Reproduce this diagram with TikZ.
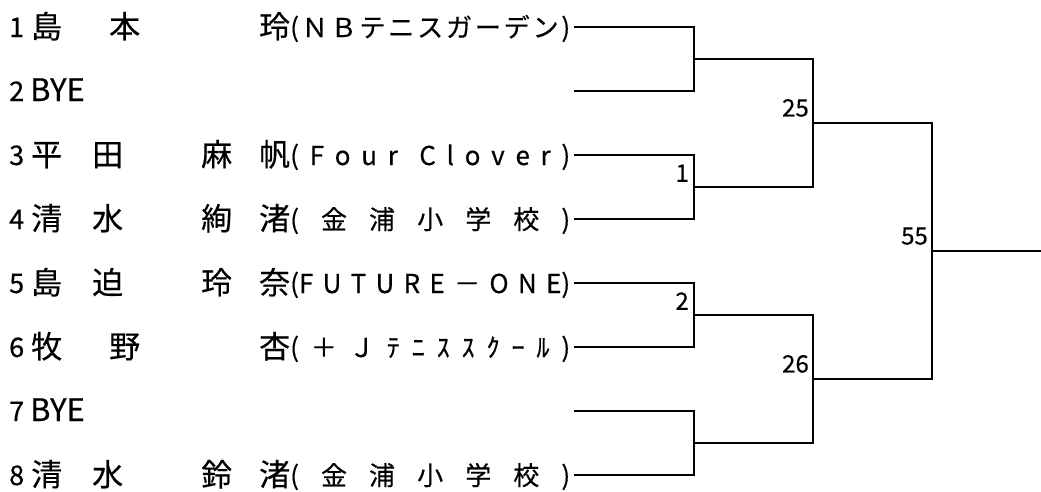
\documentclass[tikz,border=0pt]{standalone}
\usepackage{fontspec}
\newfontfamily\jp[FakeBold=0.4]{Noto Sans CJK JP}
\newcommand\nmA[4]{\rlap{#1}\kern61pt\rlap{#2}\kern109pt\rlap{#3}\kern58pt #4}
\newcommand\nmB[3]{\rlap{#1}\kern78pt\rlap{#2}\kern150pt #3}
\def\hf{\hfill}
\tikzset{
  num/.style={anchor=base west, inner sep=0pt, font=\jp\fontsize{27}{27}\selectfont},
  nm/.style={anchor=base west, inner sep=0pt, font=\jp\fontsize{31}{31}\selectfont},
  club/.style={anchor=base west, inner sep=0pt, font=\jp\fontsize{26}{26}\selectfont},
  lbl/.style={anchor=south east, inner sep=0pt, font=\jp\fontsize{24}{24}\selectfont},
  br/.style={line width=2pt, line cap=rect}
}
\begin{document}
\begin{tikzpicture}[x=1pt,y=-1pt]
\useasboundingbox (0,0) rectangle (1041,491);
% entry numbers
\node[num] (n1) at (9,37) {1};
\node[num] (n2) at (9,101) {2};
\node[num] (n3) at (9,165) {3};
\node[num] (n4) at (9,229) {4};
\node[num] (n5) at (9,293) {5};
\node[num] (n6) at (9,357) {6};
\node[num] (n7) at (9,421) {7};
\node[num] (n8) at (9,485) {8};
% names
\node[nm] (p1) at (31,38) {\nmB{島}{本}{玲}};
\node[nm] (p2) at (30,101) {BYE};
\node[nm] (p3) at (31,166) {\nmA{平}{田}{麻}{帆}};
\node[nm] (p4) at (31,230) {\nmA{清}{水}{絢}{渚}};
\node[nm] (p5) at (31,294) {\nmA{島}{迫}{玲}{奈}};
\node[nm] (p6) at (31,358) {\nmB{牧}{野}{杏}};
\node[nm] (p7) at (30,421) {BYE};
\node[nm] (p8) at (31,486) {\nmA{清}{水}{鈴}{渚}};
% clubs
\node[club] (c1) at (290,37) {\hbox to 280pt{(\hf Ｎ\hf Ｂ\hf テ\hf ニ\hf ス\hf ガ\hf ー\hf デ\hf ン\hf )}};
\node[club] (c3) at (290,165) {\hbox to 280pt{(\hf F\hf o\hf u\hf r\hf\hf C\hf l\hf o\hf v\hf e\hf r\hf )}};
\node[club] (c4) at (290,229) {\hbox to 280pt{(\hf 金\hf 浦\hf 小\hf 学\hf 校\hf )}};
\node[club] (c5) at (290,293) {\hbox to 280pt{(F\hf U\hf T\hf U\hf R\hf E\hf －\hf O\hf N\hf E)}};
\node[club] (c6) at (290,357) {\hbox to 280pt{(\hf ＋\hf Ｊ\hf ﾃ\hf ﾆ\hf ｽ\hf ｽ\hf ｸ\hf ｰ\hf ﾙ\hf )}};
\node[club] (c8) at (290,485) {\hbox to 280pt{(\hf 金\hf 浦\hf 小\hf 学\hf 校\hf )}};
% line starts
\coordinate (s1) at (575,27);
\coordinate (s2) at (575,91);
\coordinate (s3) at (575,155);
\coordinate (s4) at (575,219);
\coordinate (s5) at (575,283);
\coordinate (s6) at (575,347);
\coordinate (s7) at (575,411);
\coordinate (s8) at (575,475);
% junctions
\coordinate (j1) at (694,59);
\coordinate (j2) at (694,187);
\coordinate (j3) at (694,315);
\coordinate (j4) at (694,443);
\coordinate (k1) at (813,123);
\coordinate (k2) at (813,379);
\coordinate (m) at (932,251);
\coordinate (w) at (1041,251);
% brackets
\draw[br] (s1) -| (j1) |- (s2);
\draw[br] (s3) -| (j2) |- (s4);
\draw[br] (s5) -| (j3) |- (s6);
\draw[br] (s7) -| (j4) |- (s8);
\draw[br] (j1) -| (k1) |- (j2);
\draw[br] (j3) -| (k2) |- (j4);
\draw[br] (k1) -| (m) |- (k2);
\draw[br] (m) -- (w);
% match numbers
\node[lbl] (l1) at ([xshift=-5pt,yshift=5pt]j2) {1};
\node[lbl] (l2) at ([xshift=-5pt,yshift=5pt]j3) {2};
\node[lbl] (l25) at ([xshift=-4pt,yshift=6pt]k1) {25};
\node[lbl] (l26) at ([xshift=-4pt,yshift=6pt]k2) {26};
\node[lbl] (l55) at ([xshift=-4pt,yshift=6pt]m) {55};
\end{tikzpicture}
\end{document}
